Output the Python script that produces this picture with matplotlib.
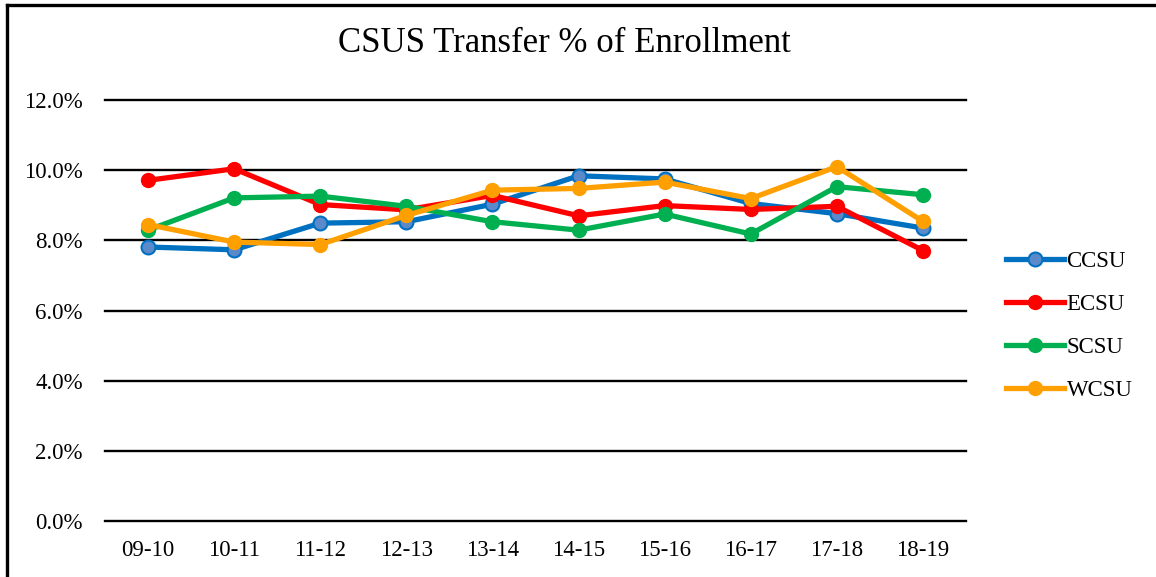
import matplotlib
matplotlib.use("Agg")
import matplotlib.pyplot as plt
from matplotlib.lines import Line2D

plt.rcParams['font.family'] = ['Liberation Serif', 'DejaVu Serif']

years = ["09-10", "10-11", "11-12", "12-13", "13-14", "14-15", "15-16", "16-17", "17-18", "18-19"]
ccsu = [7.81, 7.73, 8.49, 8.53, 9.03, 9.84, 9.75, 9.05, 8.76, 8.35]
ecsu = [9.71, 10.04, 9.02, 8.87, 9.28, 8.70, 8.99, 8.88, 8.97, 7.71]
scsu = [8.29, 9.21, 9.26, 8.97, 8.53, 8.29, 8.75, 8.18, 9.53, 9.30]
wcsu = [8.45, 7.95, 7.88, 8.71, 9.43, 9.48, 9.66, 9.19, 10.10, 8.54]
yticks = [0, 2, 4, 6, 8, 10, 12]

W, H = 1156, 577
fig = plt.figure(figsize=(W / 100, H / 100), dpi=100)
ax = fig.add_axes([105 / W, 1 - 521 / H, (966 - 105) / W, (521 - 100) / H])

x = list(range(len(years)))
lw = 3.8
ms = 10
ax.plot(x, ccsu, color="#0070C0", lw=lw, marker="o", ms=ms,
        mfc="#5B8ACB", mec="#0070C0", mew=1.5, label="CCSU", zorder=3)
ax.plot(x, ecsu, color="#FF0000", lw=lw, marker="o", ms=ms,
        mfc="#FF0000", mec="#FF0000", label="ECSU", zorder=3)
ax.plot(x, scsu, color="#00B050", lw=lw, marker="o", ms=ms,
        mfc="#00B050", mec="#00B050", label="SCSU", zorder=3)
ax.plot(x, wcsu, color="#FFA000", lw=lw, marker="o", ms=ms,
        mfc="#FFA000", mec="#FFA000", label="WCSU", zorder=3)

ax.set_xlim(-0.5, len(years) - 0.5)
ax.set_ylim(0, 12)
ax.set_yticks(yticks)
ax.set_yticklabels([f"{v:.1f}%" for v in yticks])
ax.set_xticks(x)
ax.set_xticklabels(years)
for s in ax.spines.values():
    s.set_visible(False)
ax.grid(axis="y", color="black", lw=1.7, zorder=1)
ax.set_axisbelow(True)
for gl in ax.get_ygridlines():
    gl.set_clip_on(False)
ax.tick_params(axis="both", length=0, labelsize=16.5)
ax.tick_params(axis="y", pad=16)
ax.tick_params(axis="x", pad=14)

fig.text(564 / W, 1 - 44 / H, "CSUS Transfer % of Enrollment",
         ha="center", va="center", fontsize=25)

handles, labels = ax.get_legend_handles_labels()
leg = fig.legend(handles, labels, loc="center left",
                 bbox_to_anchor=(995 / W, 1 - 326 / H), frameon=False,
                 fontsize=16.5, handlelength=2.5, handletextpad=0.12,
                 labelspacing=0.95, borderpad=0)

# partial border of the chart area
fig.add_artist(Line2D([6.5 / W, 1.0], [1 - 4.5 / H, 1 - 4.5 / H],
                      transform=fig.transFigure, color="black", lw=2.4))
fig.add_artist(Line2D([6.5 / W, 6.5 / W], [0, 1 - 4.5 / H],
                      transform=fig.transFigure, color="black", lw=2.4))

fig.savefig("out.png", dpi=100)
